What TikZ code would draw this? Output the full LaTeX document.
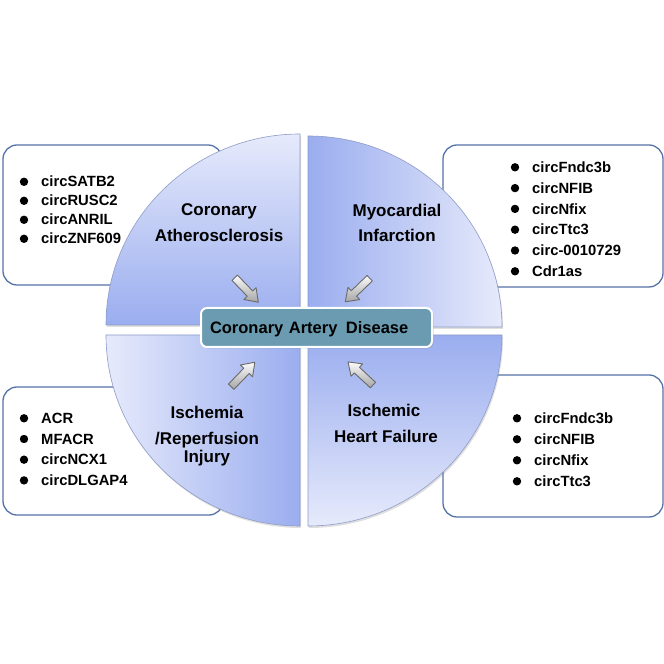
\documentclass[tikz,border=0pt]{standalone}
\usepackage{fontspec}
\setmainfont{Liberation Sans}
\usetikzlibrary{shadows}
\definecolor{quadDark}{HTML}{9AADEF}
\definecolor{quadLight}{HTML}{E6EAFB}
\definecolor{quadEdge}{HTML}{8E9CC8}
\definecolor{boxBorder}{HTML}{5573A8}
\definecolor{cadFill}{HTML}{6A9BB0}
\definecolor{arrowEdge}{HTML}{6A6A6A}
\definecolor{arrowFill}{HTML}{CFCFCF}
\begin{document}
\begin{tikzpicture}[x=1pt,y=1pt,
  listbox/.style={draw=boxBorder, line width=1.3pt, rounded corners=14pt, fill=white, inner sep=0pt},
  item/.style={anchor=base west, font=\fontsize{14.8}{16}\selectfont\bfseries, inner sep=0pt},
  qlabel/.style={anchor=base, font=\fontsize{17}{19}\selectfont\bfseries, inner sep=0pt},
  quad/.style={draw=quadEdge, line width=0.6pt, drop shadow={opacity=0.25, shadow xshift=1pt, shadow yshift=-2pt}},
  arrowbody/.style={draw=arrowEdge, line width=0.9pt, line join=round, top color=white!92!arrowFill, bottom color=arrowFill!80!black},
  blockarr/.pic={
    \path[arrowbody] (-17,-3.8) -- (5,-3.8) -- (5,-8.5) -- (17,0) -- (5,8.5) -- (5,3.8) -- (-17,3.8) -- cycle;
    \coordinate (-tip) at (17,0);
    \coordinate (-tail) at (-17,0);
  },
  cadbox/.style={draw=white, line width=2pt, fill=cadFill, rounded corners=6pt, minimum width=231pt, minimum height=39pt,
    text width=213pt, align=left, inner xsep=9pt, inner ysep=0pt, text height=12pt, text depth=0pt,
    font=\fontsize{16.5}{18}\selectfont\bfseries,
    drop shadow={opacity=0.3, shadow xshift=1.5pt, shadow yshift=-1.5pt}},
  bulletdot/.style={fill=black}
]
\useasboundingbox (0,0) rectangle (664,664);
\fill[white] (0,0) rectangle (664,664);

% list boxes (behind the circle)
\node[listbox, minimum width=219pt, minimum height=140pt] (tlbox) at (112.5,449) {};
\node[listbox, minimum width=220pt, minimum height=142pt] (trbox) at (553,448) {};
\node[listbox, minimum width=220pt, minimum height=128pt] (blbox) at (113,213) {};
\node[listbox, minimum width=220pt, minimum height=142pt] (brbox) at (553,218) {};

% quadrants
\path[quad, top color=quadLight, bottom color=quadDark]
  (300,339) -- ++(-194,0) arc[start angle=180, end angle=90, x radius=194, y radius=191] -- cycle;
\path[quad, left color=quadDark, right color=quadLight]
  (308,337) -- ++(0,191) arc[start angle=90, end angle=0, x radius=194, y radius=191] -- cycle;
\path[quad, left color=quadLight, right color=quadDark]
  (300,329) -- ++(0,-191) arc[start angle=270, end angle=180, x radius=194, y radius=191] -- cycle;
\path[quad, top color=quadDark, bottom color=quadLight]
  (308,329) -- ++(194,0) arc[start angle=0, end angle=-90, x radius=194, y radius=191] -- cycle;

% quadrant labels
\node[qlabel] (ca1) at (219,448) {Coronary};
\node[qlabel] (ca2) at (219,422) {Atherosclerosis};
\node[qlabel] (mi1) at (397,447) {Myocardial};
\node[qlabel] (mi2) at (397,422) {Infarction};
\node[qlabel] (ir1) at (207,245) {Ischemia};
\node[qlabel] (ir2) at (207,219) {/Reperfusion};
\node[qlabel] (ir3) at (207,201) {Injury};
\node[qlabel] (hf1) at (384,247) {Ischemic};
\node[qlabel] (hf2) at (386,221) {Heart Failure};

% centre box
\node[cadbox] (cad) at (316.5,336.5) {Coronary Artery\hspace{3pt} Disease};

% block arrows pointing to the centre box
\pic[rotate=-46] (a1) at (246.5,374) {blockarr};
\pic[rotate=-136] (a2) at (357.5,374) {blockarr};
\pic[rotate=46] (a3) at (243,289.5) {blockarr};
\pic[rotate=137] (a4) at (360.5,290.5) {blockarr};

% lists
\foreach \t [count=\i] in {circSATB2,circRUSC2,circANRIL,circZNF609}{
  \node[item] (tl\i) at (41,{477-(\i-1)*19}) {\t};
  \fill[bulletdot] ([xshift=-17pt,yshift=5.2pt]tl\i.base west) circle (4.2pt);
}
\foreach \t [count=\i] in {circFndc3b,circNFIB,circNfix,circTtc3,circ-0010729,Cdr1as}{
  \node[item] (tr\i) at (532,{491.5-(\i-1)*20.8}) {\t};
  \fill[bulletdot] ([xshift=-17pt,yshift=5.2pt]tr\i.base west) circle (4.2pt);
}
\foreach \t [count=\i] in {ACR,MFACR,circNCX1,circDLGAP4}{
  \node[item] (bl\i) at (41,{240.5-(\i-1)*20.7}) {\t};
  \fill[bulletdot] ([xshift=-17pt,yshift=5.2pt]bl\i.base west) circle (4.2pt);
}
\foreach \t [count=\i] in {circFndc3b,circNFIB,circNfix,circTtc3}{
  \node[item] (br\i) at (534,{240.5-(\i-1)*21}) {\t};
  \fill[bulletdot] ([xshift=-17pt,yshift=5.2pt]br\i.base west) circle (4.2pt);
}
\end{tikzpicture}
\end{document}
